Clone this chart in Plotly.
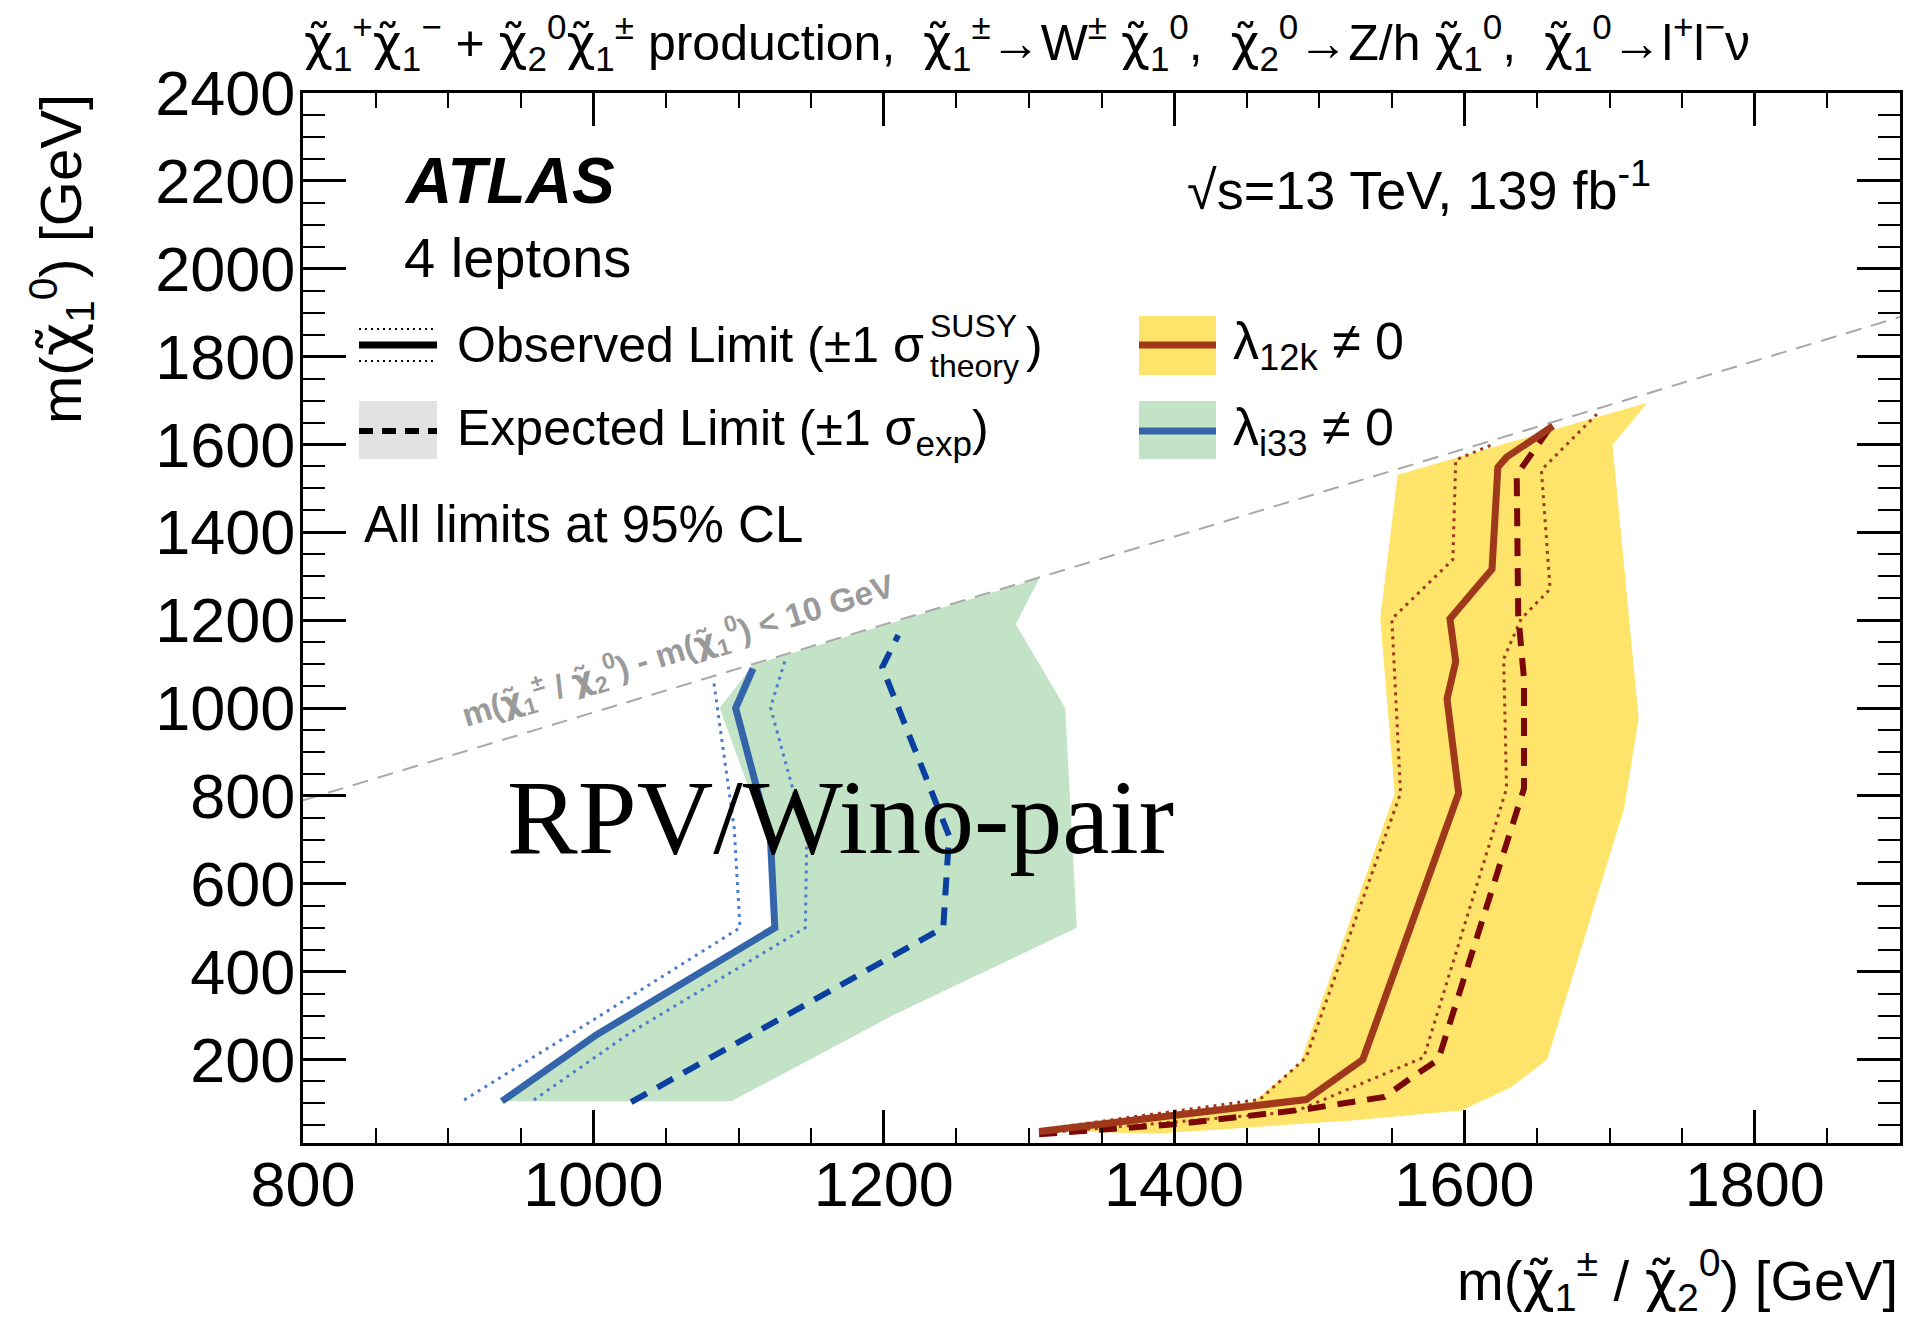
import plotly.graph_objects as go

# ---- Exclusion contours, m(chi1+-/chi20) [GeV] vs m(chi10) [GeV] ----
# lambda_i33 != 0
i33_obs_x = [937, 1002, 1125, 1122, 1098, 1110]
i33_obs_y = [105, 256, 500, 700, 1000, 1090]
i33_obs_dn_x = [911, 996, 1101, 1097, 1083]
i33_obs_dn_y = [108, 282, 500, 726, 1058]
i33_obs_up_x = [959, 1025, 1146, 1147, 1122, 1132]
i33_obs_up_y = [108, 260, 500, 700, 1001, 1108]
i33_exp_x = [1026, 1241, 1245, 1199, 1210]
i33_exp_y = [103, 500, 709, 1093, 1166]
i33_band_x = [940, 1002, 1123, 1120, 1087, 1110, 1307, 1291, 1325, 1333, 1206, 1095]
i33_band_y = [105, 256, 500, 700, 1000, 1098, 1295, 1191, 1000, 500, 300, 105]

# lambda_12k != 0
l12k_obs_x = [1307, 1491, 1530, 1596, 1588, 1594, 1590, 1619, 1623, 1629, 1661]
l12k_obs_y = [36, 109, 200, 806, 1021, 1106, 1203, 1316, 1548, 1571, 1642]
l12k_obs_dn_x = [1307, 1459, 1491, 1556, 1550, 1592, 1594, 1618]
l12k_obs_dn_y = [40, 109, 205, 806, 1203, 1338, 1565, 1598]
l12k_obs_up_x = [1307, 1483, 1572, 1629, 1627, 1639, 1659, 1653, 1693]
l12k_obs_up_y = [32, 81, 205, 817, 1112, 1203, 1271, 1542, 1675]
l12k_exp_x = [1307, 1402, 1491, 1545, 1564, 1582, 1641, 1641, 1637, 1636, 1659]
l12k_exp_y = [30, 53, 87, 115, 160, 200, 817, 1067, 1214, 1531, 1639]
l12k_band_x = [1310, 1455, 1487, 1552, 1542, 1554, 1726, 1702, 1720, 1710, 1657, 1632, 1598, 1522, 1387]
l12k_band_y = [38, 104, 194, 806, 1203, 1531, 1695, 1599, 976, 772, 200, 137, 84, 61, 31]

# kinematic boundary: m(chi1+-/chi20) - m(chi10) = 10 GeV
diag_x = [800, 1900]
diag_y = [790, 1890]

X_RANGE = [800, 1900]
Y_RANGE = [10, 2400]

W, H = 1920, 1326
ML, MR, MT, MB = 303, 20, 93, 183
PW, PH = W - ML - MR, H - MT - MB


def px(X):
    return (X - ML) / PW


def py(Y):
    return (H - MB - Y) / PH


FONT = "Liberation Sans"
YELLOW = "#FEE46A"
GREEN = "#C3E3C6"
BROWN = "#A0391B"
DARKRED = "#7A0808"
BLUE = "#3464AA"
DARKBLUE = "#0B3FA0"
LIGHTBLUE = "#4C7BD0"

fig = go.Figure()

# bands
fig.add_trace(go.Scatter(x=i33_band_x + i33_band_x[:1], y=i33_band_y + i33_band_y[:1],
                         fill="toself", fillcolor=GREEN, line=dict(width=0),
                         mode="lines", hoverinfo="skip"))
fig.add_trace(go.Scatter(x=l12k_band_x + l12k_band_x[:1], y=l12k_band_y + l12k_band_y[:1],
                         fill="toself", fillcolor=YELLOW, line=dict(width=0),
                         mode="lines", hoverinfo="skip"))

# kinematic boundary
fig.add_trace(go.Scatter(x=diag_x, y=diag_y, mode="lines",
                         line=dict(color="#A8A8A8", width=2, dash="16px,10px")))

# lambda_i33 curves
for xs, ys in ((i33_obs_dn_x, i33_obs_dn_y), (i33_obs_up_x, i33_obs_up_y)):
    fig.add_trace(go.Scatter(x=xs, y=ys, mode="lines",
                             line=dict(color=LIGHTBLUE, width=3, dash="3px,5px")))
fig.add_trace(go.Scatter(x=i33_exp_x, y=i33_exp_y, mode="lines",
                         line=dict(color=DARKBLUE, width=6, dash="18px,12px")))
fig.add_trace(go.Scatter(x=i33_obs_x, y=i33_obs_y, mode="lines",
                         line=dict(color=BLUE, width=7)))

# lambda_12k curves
for xs, ys in ((l12k_obs_dn_x, l12k_obs_dn_y), (l12k_obs_up_x, l12k_obs_up_y)):
    fig.add_trace(go.Scatter(x=xs, y=ys, mode="lines",
                             line=dict(color=BROWN, width=3, dash="3px,5px")))
fig.add_trace(go.Scatter(x=l12k_exp_x, y=l12k_exp_y, mode="lines",
                         line=dict(color=DARKRED, width=6, dash="18px,12px")))
fig.add_trace(go.Scatter(x=l12k_obs_x, y=l12k_obs_y, mode="lines",
                         line=dict(color=BROWN, width=7)))

# chi with a tilde, set in a font that places the combining mark over the letter
CHI = "<span style=\"font-family:'DejaVu Sans'\">\u03c7\u0303</span>"
ann = []


def text(x, y, s, size, xanchor="left", yanchor="middle", color="black", angle=0,
         xref="paper", yref="paper", family=FONT):
    ann.append(dict(x=x, y=y, xref=xref, yref=yref, text=s, showarrow=False,
                    xanchor=xanchor, yanchor=yanchor, textangle=angle,
                    font=dict(family=family, size=size, color=color)))


# title
title = (f"{CHI}<sub>1</sub><sup>+</sup>{CHI}<sub>1</sub><sup>\u2212</sup> + "
         f"{CHI}<sub>2</sub><sup>0</sup>{CHI}<sub>1</sub><sup>\u00b1</sup> production,  "
         f"{CHI}<sub>1</sub><sup>\u00b1</sup>\u2192W<sup>\u00b1</sup> {CHI}<sub>1</sub><sup>0</sup>,  "
         f"{CHI}<sub>2</sub><sup>0</sup>\u2192Z/h {CHI}<sub>1</sub><sup>0</sup>,  "
         f"{CHI}<sub>1</sub><sup>0</sup>\u2192l<sup>+</sup>l<sup>\u2212</sup>\u03bd")
text(px(302), py(42), title, 50)

# labels inside the frame
text(px(402), py(181), "<b><i>ATLAS</i></b>", 64)
text(px(402), py(257), "4 leptons", 56)
text(px(1185), py(186), "\u221as=13 TeV, 139 fb<sup>-1</sup>", 54)
text(px(455), py(345), "Observed Limit (\u00b11 \u03c3", 50)
text(px(928), py(326), "SUSY", 32)
text(px(928), py(366), "theory", 32)
text(px(1024), py(345), ")", 50)
text(px(455), py(431), "Expected Limit (\u00b11 \u03c3<sub>exp</sub>)", 50)
text(px(362), py(524), "All limits at 95% CL", 51)
text(px(1231), py(345), "\u03bb<sub>12k</sub> \u2260 0", 52)
text(px(1231), py(431), "\u03bb<sub>i33</sub> \u2260 0", 52)

# boundary label
text(1058, 1131, f"<b>m({CHI}<sub>1</sub><sup>\u00b1</sup> / {CHI}<sub>2</sub><sup>0</sup>) - "
     f"m({CHI}<sub>1</sub><sup>0</sup>) &lt; 10 GeV</b>", 33,
     xanchor="center", color="#9A9A9A", angle=-17, xref="x", yref="y")

# model label
text(1170, 750, "RPV/Wino-pair", 106, xanchor="center", xref="x", yref="y",
     family="Liberation Serif")

# axis titles
text(px(1900), py(1280), f"m({CHI}<sub>1</sub><sup>\u00b1</sup> / {CHI}<sub>2</sub><sup>0</sup>) [GeV]",
     56, xanchor="right")
text(px(62), py(92), f"m({CHI}<sub>1</sub><sup>0</sup>) [GeV]", 58,
     xanchor="center", yanchor="top", angle=-90)

# legend symbols
shapes = []


def rect(x0, y0, x1, y1, color):
    shapes.append(dict(type="rect", xref="paper", yref="paper",
                       x0=px(x0), x1=px(x1), y0=py(y1), y1=py(y0),
                       fillcolor=color, line=dict(width=0), layer="above"))


def hline(x0, x1, y, color, width, dash="solid"):
    shapes.append(dict(type="line", xref="paper", yref="paper",
                       x0=px(x0), x1=px(x1), y0=py(y), y1=py(y),
                       line=dict(color=color, width=width, dash=dash), layer="above"))


hline(359, 437, 345, "black", 7)
hline(359, 437, 329, "black", 2, "2px,4px")
hline(359, 437, 361, "black", 2, "2px,4px")
rect(359, 401, 437, 459, "#E2E2E2")
hline(359, 437, 431, "black", 6, "14px,9px")
rect(1139, 316, 1216, 375, YELLOW)
hline(1139, 1216, 345, BROWN, 7)
rect(1139, 401, 1216, 459, GREEN)
hline(1139, 1216, 431, BLUE, 7)

axis_common = dict(showgrid=False, zeroline=False, showline=True, linecolor="black",
                   linewidth=3, ticks="inside", mirror="allticks", tickcolor="black",
                   tickwidth=2.5, tick0=0, dtick=200,
                   tickfont=dict(family=FONT, size=63, color="black"))

fig.update_layout(
    width=W, height=H,
    margin=dict(l=ML, r=MR, t=MT, b=MB),
    paper_bgcolor="white", plot_bgcolor="white",
    showlegend=False,
    font=dict(family=FONT, color="black"),
    xaxis=dict(range=X_RANGE, ticklen=33, ticklabelstandoff=-16,
               minor=dict(ticks="inside", ticklen=15, tickwidth=2, dtick=50, tick0=0,
                          tickcolor="black", showgrid=False),
               **axis_common),
    yaxis=dict(range=Y_RANGE, ticklen=43, ticklabelstandoff=-8,
               minor=dict(ticks="inside", ticklen=22, tickwidth=2, dtick=50, tick0=0,
                          tickcolor="black", showgrid=False),
               **axis_common),
    annotations=ann,
    shapes=shapes,
)

fig.write_html("out.html")
